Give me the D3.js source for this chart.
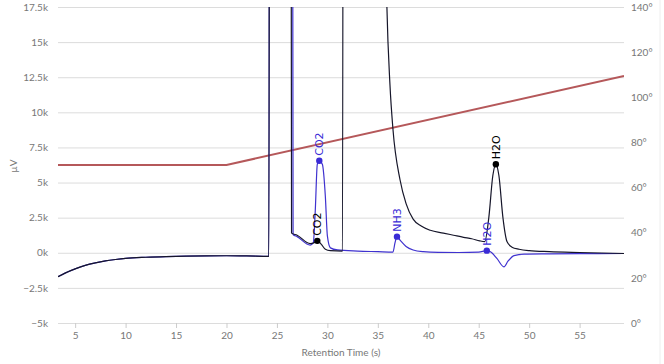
<!DOCTYPE html>
<html>
<head>
<meta charset="utf-8">
<script src="https://cdnjs.cloudflare.com/ajax/libs/d3/7.8.5/d3.min.js"></script>
<style>
  body { margin: 0; background: #fff; }
  svg text { font-family: Lato, "Open Sans", sans-serif; }
  .axis .domain { display: none; }
  .grid line { stroke: #dcdcdc; }
  .grid text, .right text, .xaxis text { fill: #777; font-size: 10px; }
  .xaxis line { stroke: #ccc; }
</style>
</head>
<body>
<svg id="chart"></svg>
<script>
// retention time (s) / signal (µV)
var blackTime = [3.3, 4, 5, 6, 7, 8, 9, 10, 12, 14, 16, 18, 20, 22, 24.2, 24.3, 26.35, 26.45, 27, 28.3, 28.7, 29.0, 29.4, 29.8, 30.3, 31.5, 31.6,
                 35.5, 35.6, 35.9, 36.2, 36.5, 37.2, 37.8, 38.5, 39.3, 40.2, 41.5, 42.5, 43.5, 44.3, 45.1, 45.6, 46.0, 46.4, 46.7, 47.0, 47.4, 47.8, 48.3, 49, 50, 52, 55, 59.4];
var blackValue = [-1700, -1450, -1150, -900, -720, -580, -480, -400, -320, -270, -240, -220, -210, -220, -250, 60000, 60000, 1400, 1250, 650, 720, 850, 600, 250, 150, 120, 60000,
                  60000, 30000, 17500, 12000, 8800, 5200, 3500, 2400, 1900, 1600, 1400, 1250, 1100, 1000, 850, 800, 2500, 5500, 6300, 5500, 2500, 800, 400, 250, 150, 80, 20, -50];

var blueTime = [3.3, 4, 5, 6, 7, 8, 9, 10, 12, 14, 16, 18, 20, 22, 24.2, 24.3, 26.5, 26.6, 27, 28.3, 28.6, 28.8, 29.0, 29.2, 29.5, 29.8, 30.0, 30.3, 31, 33, 35,
                36.5, 36.7, 36.9, 37.2, 37.8, 38.5, 39.5, 41, 43, 45, 45.8, 46.2, 46.8, 47.5, 47.9, 48.5, 49.5, 52, 55, 59.4];
var blueValue = [-1700, -1450, -1150, -900, -720, -580, -480, -400, -320, -270, -240, -220, -210, -220, -250, 60000, 60000, 1300, 1150, 550, 700, 3000, 6300, 6550, 6300, 4000, 1200, 350, 200, 120, 80,
                 50, 700, 1150, 900, 450, 200, 80, 30, 20, 50, 150, 50, -400, -1000, -600, -200, -100, -80, -60, -50];

// oven temperature (°)
var tempTime = [3.3, 20, 59.4];
var tempValue = [70, 70, 109.4];

// labelled peaks
var blackPeaks = [{name: "CO2", t: 29.0, v: 850}, {name: "H2O", t: 46.7, v: 6300}];
var bluePeaks = [{name: "CO2", t: 29.2, v: 6550}, {name: "NH3", t: 36.9, v: 1150}, {name: "H2O", t: 45.8, v: 150}];

var yTicks = [-5000, -2500, 0, 2500, 5000, 7500, 10000, 12500, 15000, 17500];
var tempTicks = [0, 20, 40, 60, 80, 100, 120, 140];
var xTicks = [5, 10, 15, 20, 25, 30, 35, 40, 45, 50, 55];

var screen = {width: 664, height: 364};
var plot = {left: 58, right: 624, top: 7, bottom: 323};

var svg = d3.select("svg#chart")
    .attr("width", screen.width)
    .attr("height", screen.height);

var xScale = d3.scaleLinear().domain([3.3, 59.4]).range([plot.left, plot.right]);
var yScale = d3.scaleLinear().domain([-5000, 17500]).range([plot.bottom, plot.top]);
var tScale = d3.scaleLinear().domain([0, 140]).range([plot.bottom, plot.top]);

// card border on the right
svg.append("line")
    .attr("x1", 660).attr("x2", 660)
    .attr("y1", 0).attr("y2", screen.height)
    .attr("stroke", "#eee");

// left axis with gridlines
svg.append("g")
    .attr("class", "axis grid")
    .attr("transform", "translate(" + plot.left + ",0)")
    .call(d3.axisLeft(yScale)
        .tickValues(yTicks)
        .tickSize(-(plot.right - plot.left))
        .tickPadding(10)
        .tickFormat(function(d) { return (d < 0 ? "\u2212" : "") + Math.abs(d / 1000) + "k"; }));

// right temperature axis
svg.append("g")
    .attr("class", "axis right")
    .attr("transform", "translate(" + plot.right + ",0)")
    .call(d3.axisRight(tScale)
        .tickValues(tempTicks)
        .tickSize(0)
        .tickPadding(7)
        .tickFormat(function(d) { return d + "\u00b0"; }));

// bottom axis
svg.append("g")
    .attr("class", "axis xaxis")
    .attr("transform", "translate(0," + plot.bottom + ")")
    .call(d3.axisBottom(xScale)
        .tickValues(xTicks)
        .tickSize(5)
        .tickPadding(4));

svg.append("text")
    .text("Retention Time (s)")
    .attr("text-anchor", "middle")
    .attr("x", 341)
    .attr("y", 356)
    .attr("fill", "#777")
    .style("font-size", "10px");

svg.append("text")
    .text("\u00b5V")
    .attr("text-anchor", "middle")
    .attr("transform", "translate(17,166) rotate(-90)")
    .attr("fill", "#777")
    .style("font-size", "10px");

svg.append("clipPath")
    .attr("id", "plotClip")
    .append("rect")
    .attr("x", plot.left)
    .attr("y", plot.top)
    .attr("width", plot.right - plot.left)
    .attr("height", plot.bottom - plot.top);

var g = svg.append("g").attr("clip-path", "url(#plotClip)");

var signalLine = d3.line()
    .x(function(d) { return xScale(d[0]); })
    .y(function(d) { return yScale(d[1]); })
    .curve(d3.curveMonotoneX);

var zip = function(a, b) { return a.map(function(v, i) { return [v, b[i]]; }); };

g.append("path")
    .datum(zip(tempTime, tempValue))
    .attr("fill", "none")
    .attr("stroke", "#b5585a")
    .attr("stroke-width", 2)
    .attr("d", d3.line()
        .x(function(d) { return xScale(d[0]); })
        .y(function(d) { return tScale(d[1]); }));

g.append("path")
    .datum(zip(blueTime, blueValue))
    .attr("fill", "none")
    .attr("stroke", "#3f32cf")
    .attr("stroke-width", 1.2)
    .attr("d", signalLine);

g.append("path")
    .datum(zip(blackTime, blackValue))
    .attr("fill", "none")
    .attr("stroke", "#16162a")
    .attr("stroke-width", 1.2)
    .attr("d", signalLine);

var drawPeaks = function(peaks, color) {
    var p = svg.append("g").selectAll("g")
        .data(peaks)
        .enter()
        .append("g")
        .attr("transform", function(d) { return "translate(" + xScale(d.t) + "," + yScale(d.v) + ")"; });
    p.append("circle")
        .attr("r", 3.2)
        .attr("fill", color);
    p.append("text")
        .text(function(d) { return d.name; })
        .attr("transform", "rotate(-90)")
        .attr("x", 5)
        .attr("dy", "0.35em")
        .attr("fill", color)
        .style("font-size", "11px")
        .style("font-family", "'DejaVu Sans', sans-serif");
};

drawPeaks(bluePeaks, "#3a2bd6");
drawPeaks(blackPeaks, "#000");
</script>
</body>
</html>
